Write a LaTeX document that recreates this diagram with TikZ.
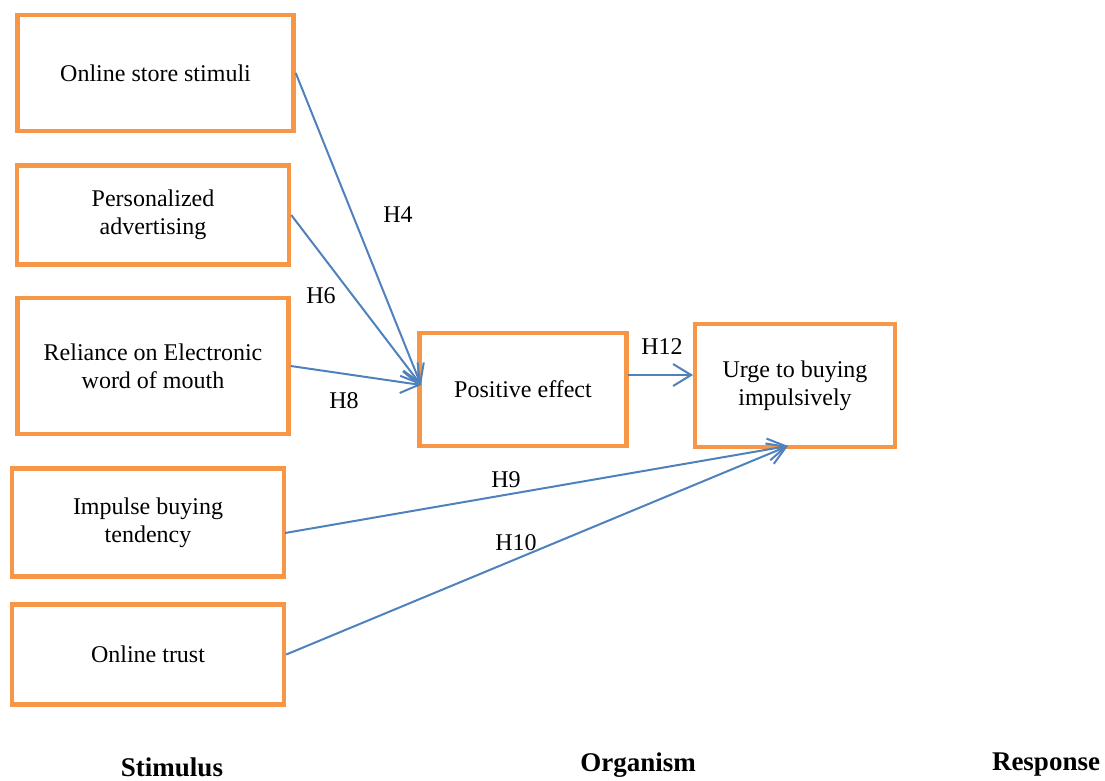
\documentclass[tikz,border=0pt]{standalone}
\usepackage{fontspec}
\setmainfont{Liberation Serif}
\usetikzlibrary{arrows.meta,calc}
\definecolor{boxorange}{HTML}{F79646}
\definecolor{linkblue}{HTML}{4F81BD}
\begin{document}
\begin{tikzpicture}[x=1pt,y=-1pt,
  factor/.style={draw=boxorange,line width=4.5pt,fill=white,inner sep=0pt,
    align=center,font=\fontsize{24}{28}\selectfont},
  link/.style={draw=linkblue,line width=2pt,
    -{Straight Barb[length=18pt,width=22pt,line width=2pt]}},
  hyp/.style={font=\fontsize{24}{28}\selectfont,inner sep=0pt},
  stage/.style={font=\fontsize{27}{30}\selectfont\bfseries,inner sep=0pt}]
\useasboundingbox (0,0) rectangle (1105,780);

% stimulus factors
\node[factor,minimum width=276pt,minimum height=116pt] (os) at (155.5,73) {Online store stimuli};
\node[factor,minimum width=272pt,minimum height=99pt] (pa) at (153,215) {Personalized\\advertising};
\node[factor,minimum width=271pt,minimum height=136pt] (re) at (153,366) {Reliance on Electronic\\word of mouth};
\node[factor,minimum width=272pt,minimum height=108pt] (ib) at (148,522.5) {Impulse buying\\tendency};
\node[factor,minimum width=272pt,minimum height=100pt] (ot) at (148,654.5) {Online trust};

% organism and response
\node[factor,minimum width=207pt,minimum height=113pt] (pe) at (523,389.5) {Positive effect};
\node[factor,minimum width=200pt,minimum height=123pt] (ur) at (795,385.5) {Urge to buying\\impulsively};

% arrow end points
\coordinate (peIn) at (421,385);
\coordinate (urIn) at (788,446);
\coordinate (ibOut) at (285,533);
\coordinate (peOut) at (628,375);
\coordinate (urLeft) at (693,375);

\draw[link] (os.east) -- (peIn);
\draw[link] (pa.east) -- (peIn);
\draw[link] (re.east) -- (peIn);
\draw[link] (peOut) -- (urLeft);
\draw[link] (ibOut) -- (urIn);
\draw[link] (ot.east) -- (urIn);

% hypothesis labels
\node[hyp] (h4) at (398,215) {H4};
\node[hyp] (h6) at (321,296) {H6};
\node[hyp] (h8) at (344,401) {H8};
\node[hyp] (h12) at (662,347) {H12};
\node[hyp] (h9) at (506,480) {H9};
\node[hyp] (h10) at (516,543) {H10};

% stage captions
\node[stage] (st) at (172,767) {Stimulus};
\node[stage] (org) at (638,765) {Organism};
\node[stage] (resp) at (1046,765) {Response};
\end{tikzpicture}
\end{document}
